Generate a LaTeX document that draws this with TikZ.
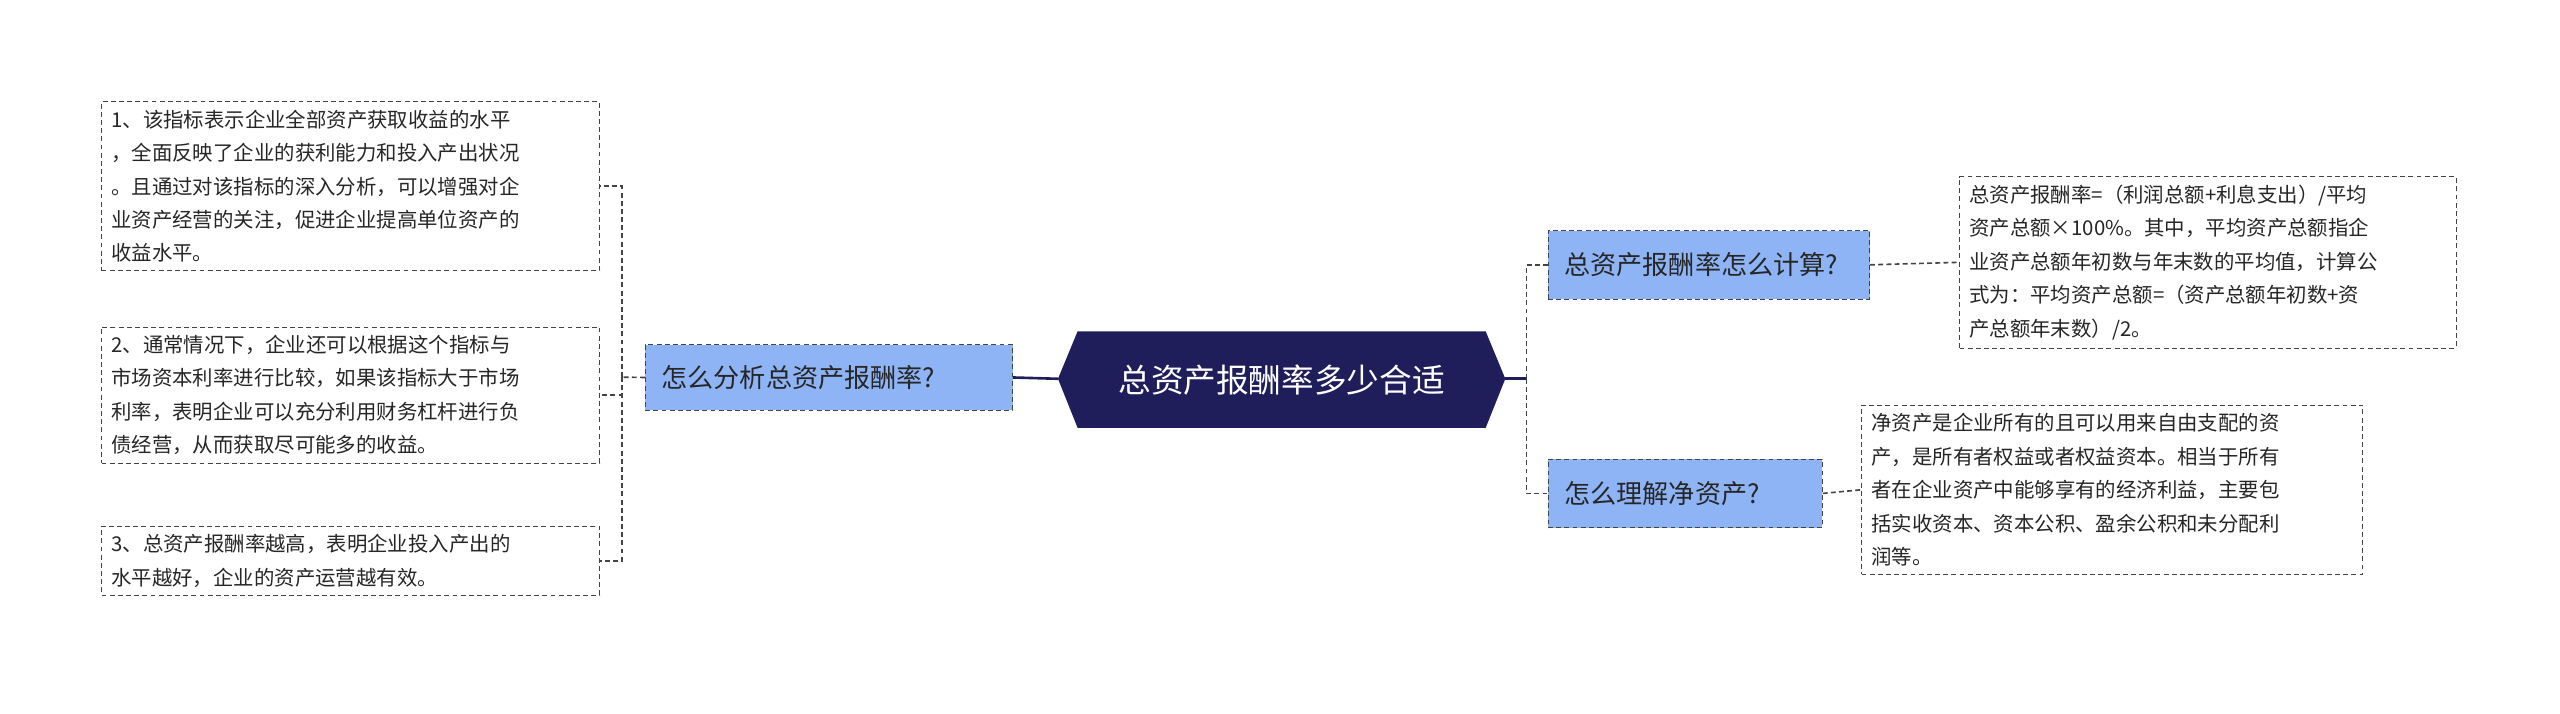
\documentclass[tikz,border=0pt]{standalone}
\usepackage{fontspec}
\setmainfont{Noto Sans CJK SC}
\definecolor{navy}{HTML}{1F1E5A}
\definecolor{lblue}{HTML}{8FB4F6}
\definecolor{edge}{HTML}{444444}
\begin{document}
\begin{tikzpicture}[x=1pt,y=-1pt,
 txt/.style={draw=edge,dash pattern=on 3pt off 2pt,fill=white,align=left,anchor=north west,inner xsep=6pt,inner ysep=5pt,font=\fontsize{12.5}{20.5}\selectfont,text=black!85},
 sub/.style={draw=edge,dash pattern=on 3pt off 2pt,fill=lblue,anchor=north west,inner xsep=10pt,inner ysep=0pt,align=left,font=\fontsize{16}{18}\selectfont,text=black!85},
 con/.style={draw=edge,dash pattern=on 3pt off 2pt,line width=1pt},
 solidc/.style={draw=navy,line width=1.6pt}]
\useasboundingbox (0,0) rectangle (1568,437);
% central
\fill[navy] (648,232)--(660,203)--(910,203)--(922,232)--(910,262)--(660,262)--cycle;
\node[text=white,font=\fontsize{20}{22}\selectfont] (c) at (785,232.5) {总资产报酬率多少合适};
\coordinate (cl) at (648,232); \coordinate (cr) at (922,232);
% subs
\node[sub,text width=205pt,minimum height=40pt] (L) at (395,211) {怎么分析总资产报酬率?};
\node[sub,text width=177pt,minimum height=42pt] (R1) at (948,141) {总资产报酬率怎么计算?};
\node[sub,text width=148pt,minimum height=42pt] (R2) at (948,281) {怎么理解净资产?};
% text boxes
\node[txt,text width=293pt] (T1) at (62,62) {1、该指标表示企业全部资产获取收益的水平\\，全面反映了企业的获利能力和投入产出状况\\。且通过对该指标的深入分析，可以增强对企\\业资产经营的关注，促进企业提高单位资产的\\收益水平。};
\node[txt,text width=293pt] (T2) at (62,200) {2、通常情况下，企业还可以根据这个指标与\\市场资本利率进行比较，如果该指标大于市场\\利率，表明企业可以充分利用财务杠杆进行负\\债经营，从而获取尽可能多的收益。};
\node[txt,text width=293pt] (T3) at (62,322) {3、总资产报酬率越高，表明企业投入产出的\\水平越好，企业的资产运营越有效。};
\node[txt,text width=292pt] (T4) at (1200,108) {总资产报酬率=（利润总额+利息支出）/平均\\资产总额×100\%。其中，平均资产总额指企\\业资产总额年初数与年末数的平均值，计算公\\式为：平均资产总额=（资产总额年初数+资\\产总额年末数）/2。};
\node[txt,text width=295pt] (T5) at (1140,248) {净资产是企业所有的且可以用来自由支配的资\\产，是所有者权益或者权益资本。相当于所有\\者在企业资产中能够享有的经济利益，主要包\\括实收资本、资本公积、盈余公积和未分配利\\润等。};
% connectors
\draw[solidc] (cl) -- (L.east);
\draw[solidc] (cr) -- (935,232);
\draw[con] (935,232) |- (R1.west);
\draw[con] (935,232) |- (R2.west);
\draw[con] (L.west) -- (381,231);
\draw[con] (381,231) |- (T1.east);
\draw[con] (381,231) |- (T2.east);
\draw[con] (381,231) |- (T3.east);
\draw[con] (R1.east) -- (T4.west);
\draw[con] (R2.east) -- (T5.west);
\end{tikzpicture}
\end{document}
